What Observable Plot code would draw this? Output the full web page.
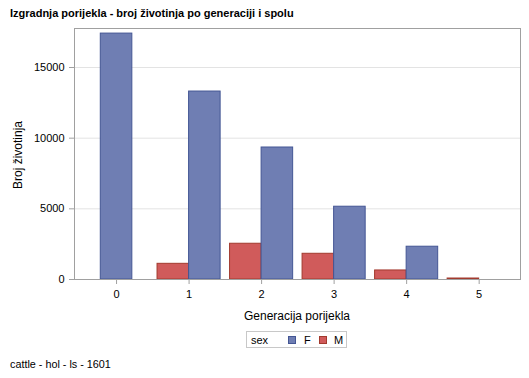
<!DOCTYPE html>
<html>
<head>
<meta charset="utf-8">
<script src="https://cdn.jsdelivr.net/npm/d3@7"></script>
<script src="https://cdn.jsdelivr.net/npm/@observablehq/plot@0.6"></script>
<style>
  html, body { margin: 0; padding: 0; background: #fff; }
  body { font-family: "Liberation Sans", Arial, sans-serif; }
  #wrap { position: relative; width: 529px; height: 378px; overflow: hidden; }
  #chart { position: absolute; left: 0; top: 0; }
  .abs { position: absolute; white-space: nowrap; color: #000; }
  #title { left: 10px; top: 7px; font-size: 11px; font-weight: bold; }
  #ylab { left: 18px; top: 155px; font-size: 12px; transform: translate(-50%, -50%) rotate(-90deg); }
  #xlab { left: 297px; top: 316px; font-size: 12px; transform: translate(-50%, -50%); }
  #legend { left: 246px; top: 331px; width: 101px; height: 17px; border: 1px solid #c8c8c8; box-sizing: border-box; font-size: 11px; }
  #legend span { position: absolute; top: 2px; }
  #legend .sw { width: 8px; height: 8px; top: 3.5px; box-sizing: border-box; }
  #footer { left: 10px; top: 358px; font-size: 10.8px; }
</style>
</head>
<body>
<div id="wrap">
  <div id="chart"></div>
  <div class="abs" id="title">Izgradnja porijekla - broj životinja po generaciji i spolu</div>
  <div class="abs" id="ylab">Broj životinja</div>
  <div class="abs" id="xlab">Generacija porijekla</div>
  <div class="abs" id="legend">
    <span style="left:4px">sex</span>
    <span class="sw" style="left:41px;background:#6F7EB3;border:1px solid #445694"></span>
    <span style="left:57px">F</span>
    <span class="sw" style="left:72px;background:#D05B5B;border:1px solid #A23A2E"></span>
    <span style="left:87px">M</span>
  </div>
  <div class="abs" id="footer">cattle - hol - ls - 1601</div>
</div>
<script>
const generations = [0, 1, 2, 3, 4, 5];
const femaleCounts = [17400, 13300, 9340, 5150, 2320, 0];
const maleCounts = [null, 1110, 2530, 1820, 640, 70];
const sexOrder = ["M", "F"];
const yTicks = [0, 5000, 10000, 15000];

// Build cluster rows: groups present in each generation share the slot, centered on the tick
const barWidth = 0.435;
const rows = [];
generations.forEach((g, i) => {
  const present = [];
  if (maleCounts[i] != null) present.push({sex: "M", count: maleCounts[i]});
  if (femaleCounts[i] != null) present.push({sex: "F", count: femaleCounts[i]});
  const n = present.length;
  present.forEach((p, j) => {
    const x1 = g - n * barWidth / 2 + j * barWidth;
    rows.push({generation: g, sex: p.sex, count: p.count, x1, x2: x1 + barWidth});
  });
});

const colors = {F: {fill: "#6F7EB3", stroke: "#445694"}, M: {fill: "#D05B5B", stroke: "#A23A2E"}};

const chart = Plot.plot({
  width: 529,
  height: 305,
  marginTop: 28,
  marginLeft: 74,
  marginRight: 9,
  marginBottom: 26,
  style: {fontFamily: "'Liberation Sans', Arial, sans-serif", fontSize: "11px", color: "#000", background: "transparent"},
  x: {type: "linear", domain: [-0.58, 5.57]},
  y: {domain: [0, 17760]},
  marks: [
    Plot.gridY([5000, 10000, 15000], {stroke: "#e3e3e3", strokeOpacity: 1}),
    ...sexOrder.map(s => Plot.rectY(rows.filter(r => r.sex === s), {
      x1: "x1", x2: "x2", y: "count",
      fill: colors[s].fill, stroke: colors[s].stroke, strokeWidth: 1
    })),
    Plot.frame({stroke: "#a0a0a0"}),
    Plot.axisX(generations, {tickSize: 5, tickPadding: 6, stroke: "#a0a0a0", tickFormat: d => String(d), label: null, fill: "#000"}),
    Plot.axisY(yTicks, {tickSize: 5, tickPadding: 5, stroke: "#a0a0a0", tickFormat: d => String(d), label: null, fill: "#000"})
  ]
});
document.getElementById("chart").appendChild(chart);
</script>
</body>
</html>
